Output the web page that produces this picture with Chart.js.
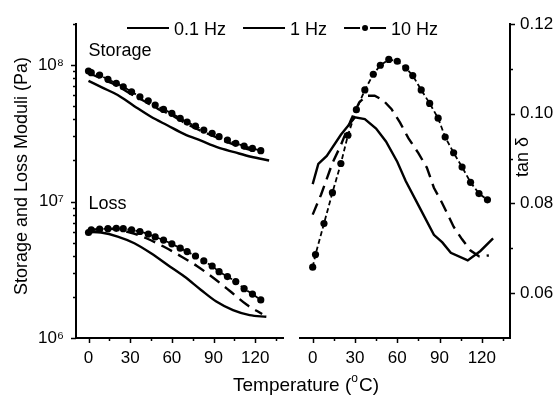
<!DOCTYPE html>
<html>
<head>
<meta charset="utf-8">
<script src="https://cdn.jsdelivr.net/npm/chart.js@4.4.1/dist/chart.umd.min.js"></script>
<style>
  html, body { margin: 0; padding: 0; background: #fff; }
  #wrap { position: relative; width: 558px; height: 396px; }
  #wrap canvas { position: absolute; left: 0; top: 0; }
</style>
</head>
<body>
<div id="wrap">
  <canvas id="moduliChart" width="558" height="396"></canvas>
  <canvas id="tanChart" width="558" height="396"></canvas>
</div>
<script>
// temperatures (°C) of the 10 Hz points (same grid in both panels)
const temp10 = [0, 2, 8, 14, 20, 25, 31, 37, 43, 48, 54, 60, 66, 71, 77, 83, 89, 94, 100, 106, 112, 118, 124];

// storage modulus (Pa)
const storT01 = [0, 10, 21, 33, 45, 57, 69, 81, 93, 105, 117, 130];
const storG01 = [7.67e7, 6.84e7, 6.03e7, 5.0e7, 4.18e7, 3.61e7, 3.12e7, 2.79e7, 2.49e7, 2.3e7, 2.13e7, 2.0e7];
const storT1 = [0, 10, 20, 30, 40, 50, 60, 70, 80, 90, 100, 110, 120, 125];
const storG1 = [8.75e7, 7.9e7, 7.1e7, 6.2e7, 5.45e7, 4.78e7, 4.28e7, 3.74e7, 3.33e7, 3.02e7, 2.72e7, 2.5e7, 2.34e7, 2.27e7];
const storG10 = [9.04e7, 8.79e7, 8.45e7, 7.86e7, 7.35e7, 6.94e7, 6.37e7, 5.86e7, 5.47e7, 5.09e7, 4.73e7, 4.43e7,
                 4.07e7, 3.82e7, 3.57e7, 3.34e7, 3.16e7, 2.99e7, 2.82e7, 2.67e7, 2.55e7, 2.45e7, 2.36e7];

// loss modulus (Pa)
const lossT01 = [0, 9, 21, 33, 45, 57, 69, 81, 92, 104, 116, 128];
const lossG01 = [6.0e6, 5.93e6, 5.54e6, 4.95e6, 4.18e6, 3.43e6, 2.82e6, 2.25e6, 1.85e6, 1.6e6, 1.47e6, 1.43e6];
const lossT1 = [0, 15, 30, 42, 54, 66, 78, 90, 102, 114, 125];
const lossG1 = [6.2e6, 6.3e6, 5.93e6, 5.36e6, 4.68e6, 4.0e6, 3.37e6, 2.75e6, 2.2e6, 1.75e6, 1.5e6];
const lossG10 = [5.93e6, 6.19e6, 6.27e6, 6.33e6, 6.36e6, 6.33e6, 6.19e6, 6.03e6, 5.78e6, 5.5e6, 5.22e6, 4.9e6,
                 4.55e6, 4.3e6, 3.99e6, 3.67e6, 3.37e6, 3.06e6, 2.82e6, 2.59e6, 2.3e6, 2.1e6, 1.9e6];

// tan delta
const tanT01 = [0, 4, 10, 20, 30, 37, 45, 52, 60, 66, 76, 86, 92, 98, 110, 119, 128];
const tanD01 = [0.0843, 0.0888, 0.0906, 0.0953, 0.0992, 0.0988, 0.0967, 0.0938, 0.0893, 0.0850, 0.0790,
                0.0730, 0.0713, 0.0690, 0.0673, 0.0694, 0.0722];
const tanT1 = [0, 6, 14, 20, 27, 33, 38, 44, 50, 56, 62, 68, 75, 81, 86, 92, 100, 106, 112, 118, 125];
const tanD1 = [0.0775, 0.0820, 0.0890, 0.0930, 0.0985, 0.1025, 0.1040, 0.1040, 0.1030, 0.1010, 0.0980,
               0.0945, 0.0912, 0.0880, 0.0835, 0.0800, 0.0748, 0.0720, 0.0695, 0.0682, 0.0684];
const tanD10 = [0.0658, 0.0686, 0.0755, 0.0824, 0.0889, 0.0952, 0.1009, 0.1053, 0.1088, 0.1108, 0.1121, 0.1117,
                0.1102, 0.1085, 0.1053, 0.1023, 0.0990, 0.0948, 0.0913, 0.0881, 0.0847, 0.0822, 0.0808];

// axis ticks
const tempTicks = [0, 30, 60, 90, 120];
const tempMinor = [15, 45, 75, 105, 135];
const moduliTicks = [1e6, 1e7, 1e8];
const moduliMinor = [2e6, 3e6, 4e6, 5e6, 6e6, 7e6, 8e6, 9e6, 2e7, 3e7, 4e7, 5e7, 6e7, 7e7, 8e7, 9e7, 2e8];
const tanTicks = [0.06, 0.08, 0.10, 0.12];
const tanMinor = [0.07, 0.09, 0.11];
const freqLabels = ['0.1 Hz', '1 Hz', '10 Hz'];

const FONT = '"Liberation Sans", Arial, sans-serif';
Chart.defaults.font.family = FONT;
Chart.defaults.color = '#000';

const zip = (xs, ys) => xs.map((x, i) => ({ x: x, y: ys[i] }));
const sup = { 6: '\u2076', 7: '\u2077', 8: '\u2078' };

const solid = { borderColor: '#000', borderWidth: 2.4, pointRadius: 0 };
const dashed = { borderColor: '#000', borderWidth: 2.4, borderDash: [12, 7], pointRadius: 0 };
const dotted = { borderColor: '#000', borderWidth: 1.8, borderDash: [5, 3], pointRadius: 3.6,
                 pointBackgroundColor: '#000', pointBorderWidth: 0 };

// draws short outward tick marks, longer for labelled ticks
const tickMarks = {
    id: 'tickMarks',
    afterDraw(chart, args, opts) {
        const ctx = chart.ctx;
        ctx.save();
        ctx.strokeStyle = '#000';
        ctx.lineWidth = 1.5;
        (opts.list || []).forEach(t => {
            const scale = chart.scales[t.scale];
            t.values.forEach(v => {
                const p = Math.round(scale.getPixelForValue(v)) + 0.5;
                ctx.beginPath();
                if (scale.isHorizontal()) {
                    ctx.moveTo(p, scale.top); ctx.lineTo(p, scale.top + t.len);
                } else if (scale.position === 'left') {
                    ctx.moveTo(scale.right, p); ctx.lineTo(scale.right - t.len, p);
                } else {
                    ctx.moveTo(scale.left, p); ctx.lineTo(scale.left + t.len, p);
                }
                ctx.stroke();
            });
        });
        ctx.restore();
    }
};

const moduliText = {
    id: 'moduliText',
    afterDraw(chart) {
        const ctx = chart.ctx;
        const x0 = chart.scales.x.getPixelForValue(0);
        ctx.save();
        ctx.fillStyle = '#000';
        ctx.font = '18px ' + FONT;
        ctx.textBaseline = 'alphabetic';
        ctx.fillText('Storage', x0, 56);
        ctx.fillText('Loss', x0, 209);
        ctx.translate(27, 176);
        ctx.rotate(-Math.PI / 2);
        ctx.textAlign = 'center';
        ctx.fillText('Storage and Loss Moduli (Pa)', 0, 0);
        ctx.restore();
    }
};

const sharedText = {
    id: 'sharedText',
    afterDraw(chart) {
        const ctx = chart.ctx;
        ctx.save();
        ctx.fillStyle = '#000';
        ctx.strokeStyle = '#000';
        ctx.lineWidth = 2;

        // legend
        ctx.font = '18px ' + FONT;
        ctx.textBaseline = 'alphabetic';
        let x = 127;
        const ly = 28;
        chart.data.datasets.forEach(ds => {
            ctx.beginPath();
            if (ds.pointRadius > 0) {
                ctx.moveTo(x, ly); ctx.lineTo(x + 16, ly);
                ctx.moveTo(x + 26, ly); ctx.lineTo(x + 42, ly);
                ctx.stroke();
                ctx.beginPath();
                ctx.arc(x + 21, ly, 3, 0, Math.PI * 2);
                ctx.fill();
            } else {
                ctx.moveTo(x, ly); ctx.lineTo(x + 42, ly);
                ctx.stroke();
            }
            x += 47;
            ctx.fillText(ds.label, x, 35);
            x += ctx.measureText(ds.label).width + 17;
        });

        // x title with superscript o
        const big = '19px ' + FONT, small = '12px ' + FONT;
        ctx.font = big;
        const a = 'Temperature (', b = 'C)';
        const wa = ctx.measureText(a).width, wb = ctx.measureText(b).width;
        ctx.font = small;
        const wo = ctx.measureText('o').width + 1;
        let tx = 306 - (wa + wo + wb) / 2;
        ctx.font = big;
        ctx.fillText(a, tx, 391);
        ctx.font = small;
        ctx.fillText('o', tx + wa, 382);
        ctx.font = big;
        ctx.fillText(b, tx + wa + wo, 391);

        // right axis title
        ctx.font = '18px ' + FONT;
        ctx.translate(528, 157);
        ctx.rotate(-Math.PI / 2);
        ctx.textAlign = 'center';
        ctx.fillText('tan \u03b4', 0, 0);
        ctx.restore();
    }
};

const hiddenGrid = { display: true, drawOnChartArea: false, drawTicks: true, tickLength: 5, tickColor: 'rgba(0,0,0,0)' };
const axisBorder = { display: true, color: '#000', width: 2 };
const tempScale = {
    type: 'linear', min: -9, max: 140,
    afterBuildTicks: s => { s.ticks = tempTicks.map(v => ({ value: v })); },
    afterFit: s => { s.height = 58; },
    grid: hiddenGrid, border: axisBorder,
    ticks: { font: { size: 17 }, padding: 5, maxRotation: 0, callback: v => String(v) }
};

new Chart(document.getElementById('moduliChart'), {
    type: 'line',
    data: {
        datasets: [
            { label: 'Storage 0.1 Hz', data: zip(storT01, storG01), cubicInterpolationMode: 'monotone', ...solid },
            { label: 'Storage 1 Hz', data: zip(storT1, storG1), cubicInterpolationMode: 'monotone', ...dashed },
            { label: 'Storage 10 Hz', data: zip(temp10, storG10), ...dotted },
            { label: 'Loss 0.1 Hz', data: zip(lossT01, lossG01), cubicInterpolationMode: 'monotone', ...solid },
            { label: 'Loss 1 Hz', data: zip(lossT1, lossG1), cubicInterpolationMode: 'monotone', ...dashed },
            { label: 'Loss 10 Hz', data: zip(temp10, lossG10), ...dotted }
        ]
    },
    options: {
        responsive: false,
        animation: false,
        devicePixelRatio: 1,
        layout: { padding: { left: 0, right: 275, top: 24, bottom: 0 } },
        scales: {
            x: tempScale,
            y: {
                type: 'logarithmic', min: 1e6, max: 2e8,
                afterBuildTicks: s => { s.ticks = moduliTicks.map(v => ({ value: v })); },
                afterFit: s => { s.width = 76; },
                grid: hiddenGrid, border: axisBorder,
                ticks: { font: { size: 17 }, padding: 7, callback: v => '10' + sup[Math.round(Math.log10(v))] }
            }
        },
        plugins: {
            legend: { display: false },
            tooltip: { enabled: false },
            tickMarks: { list: [
                { scale: 'x', values: tempTicks, len: 5 },
                { scale: 'x', values: tempMinor, len: 3 },
                { scale: 'y', values: moduliTicks, len: 5 },
                { scale: 'y', values: moduliMinor, len: 3 }
            ] }
        }
    },
    plugins: [tickMarks, moduliText]
});

new Chart(document.getElementById('tanChart'), {
    type: 'line',
    data: {
        datasets: [
            { label: freqLabels[0], data: zip(tanT01, tanD01), ...solid },
            { label: freqLabels[1], data: zip(tanT1, tanD1), ...dashed },
            { label: freqLabels[2], data: zip(temp10, tanD10), ...dotted }
        ]
    },
    options: {
        responsive: false,
        animation: false,
        devicePixelRatio: 1,
        layout: { padding: { left: 300, right: 0, top: 24, bottom: 0 } },
        scales: {
            x: tempScale,
            y: {
                type: 'linear', position: 'right', min: 0.05, max: 0.12,
                afterBuildTicks: s => { s.ticks = tanTicks.map(v => ({ value: v })); },
                afterFit: s => { s.width = 48; },
                grid: hiddenGrid, border: axisBorder,
                ticks: { font: { size: 17 }, padding: 5, callback: v => v.toFixed(2) }
            }
        },
        plugins: {
            legend: { display: false },
            tooltip: { enabled: false },
            tickMarks: { list: [
                { scale: 'x', values: tempTicks, len: 5 },
                { scale: 'x', values: tempMinor, len: 3 },
                { scale: 'y', values: tanTicks, len: 5 },
                { scale: 'y', values: tanMinor, len: 3 }
            ] }
        }
    },
    plugins: [tickMarks, sharedText]
});
</script>
</body>
</html>
